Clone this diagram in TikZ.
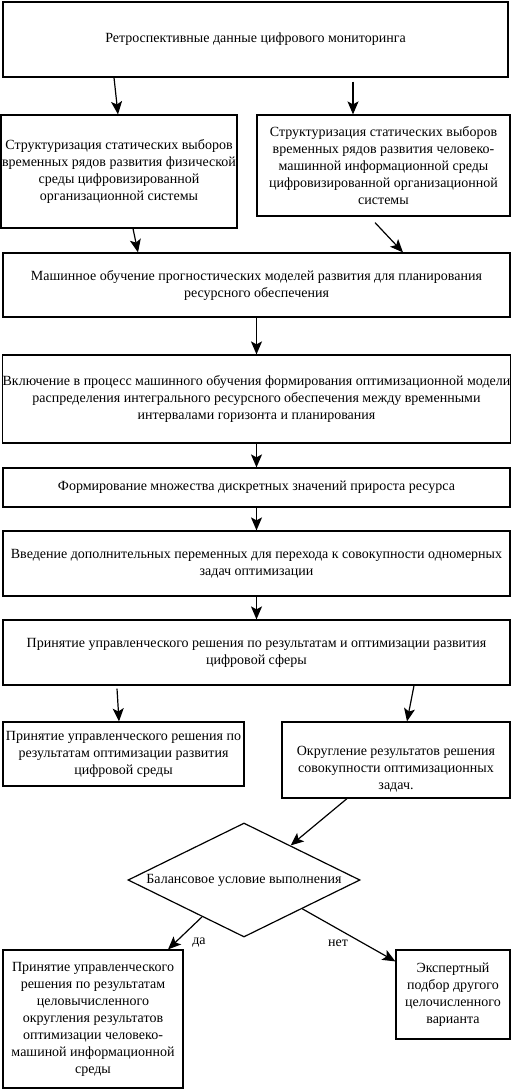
\documentclass[tikz,border=0pt]{standalone}
\usepackage{fontspec}
\setmainfont{Liberation Serif}
\usetikzlibrary{shapes.geometric,arrows.meta,calc}
\begin{document}
\begin{tikzpicture}[x=1pt,y=-1pt,
  box/.style={draw,line width=1.2pt,align=center,inner sep=0pt,font=\fontsize{14}{17}\selectfont},
  arr/.style={line width=1.2pt,-{Stealth[length=13pt,width=11pt,inset=3pt]}},
  lbl/.style={font=\fontsize{14}{17}\selectfont}]
\fill[white] (0,0) rectangle (511,1090);
\useasboundingbox (0,0) rectangle (511,1090);

\node[box,minimum width=505pt,minimum height=75pt] (b1) at (255.5,39.5)
  {Ретроспективные данные цифрового мониторинга};
\node[box,minimum width=236pt,minimum height=113pt] (b2) at (119,171.5)
  {Структуризация статических выборов\\временных рядов развития физической\\среды цифровизированной\\организационной системы};
\node[box,minimum width=253pt,minimum height=101pt] (b3) at (383.5,165.5)
  {Структуризация статических выборов\\временных рядов развития человеко-\\машинной информационной среды\\цифровизированной организационной\\системы};
\node[box,minimum width=507pt,minimum height=64pt] (b4) at (256.5,285)
  {Машинное обучение прогностических моделей развития для планирования\\ресурсного обеспечения};
\node[box,minimum width=507pt,minimum height=88pt] (b5) at (256.5,399)
  {Включение в процесс машинного обучения формирования оптимизационной модели\\распределения интегрального ресурсного обеспечения между временными\\интервалами горизонта и планирования};
\node[box,minimum width=507pt,minimum height=39pt] (b6) at (256.5,487.5)
  {Формирование множества дискретных значений прироста ресурса};
\node[box,minimum width=507pt,minimum height=65pt] (b7) at (256.5,563.5)
  {Введение дополнительных переменных для перехода к совокупности одномерных\\задач оптимизации};
\node[box,minimum width=507pt,minimum height=65pt] (b8) at (256.5,652.5)
  {Принятие управленческого решения по результатам и оптимизации развития\\цифровой сферы};
\node[box,minimum width=241pt,minimum height=64pt] (b9) at (123.5,754)
  {Принятие управленческого решения по\\результатам оптимизации развития\\цифровой среды};
\node[box,minimum width=228pt,minimum height=76pt] (b10) at (396,760)
  {\rule{0pt}{28pt}Округление результатов решения\\совокупности оптимизационных\\задач.};
\node[box,shape=diamond,aspect=2,minimum width=232pt,minimum height=114pt] (d) at (244,880)
  {Балансовое условие выполнения};
\node[box,minimum width=180pt,minimum height=138pt] (b11) at (93,1019)
  {Принятие управленческого\\решения по результатам\\целовычисленного\\округления результатов\\оптимизации человеко-\\машиной информационной\\среды};
\node[box,minimum width=114pt,minimum height=89pt] (b12) at (453,994.5)
  {Экспертный\\подбор другого\\целочисленного\\варианта};

\node[lbl] (lda) at (199,943) {да};
\node[lbl] (lnet) at (338,943) {нет};

\draw[arr] ([xshift=-141.5pt]b1.south) -- ([xshift=-1pt]b2.north);
\draw[arr] ([xshift=97.5pt,yshift=-4pt]b1.south) -- ([xshift=-30.5pt]b3.north);
\draw[arr] ([xshift=14pt]b2.south) -- ([xshift=-118.5pt]b4.north);
\draw[arr] ([xshift=-8.5pt,yshift=-6pt]b3.south) -- ([xshift=146.5pt]b4.north);
\draw[arr] (b4.south) -- (b5.north);
\draw[arr] (b5.south) -- (b6.north);
\draw[arr] (b6.south) -- (b7.north);
\draw[arr] (b7.south) -- (b8.north);
\draw[arr] ([xshift=-139.5pt,yshift=-3pt]b8.south) -- ([xshift=-4.5pt]b9.north);
\draw[arr] ([xshift=157.5pt]b8.south) -- ([xshift=11pt]b10.north);
\draw[arr] ([xshift=-49pt]b10.south) -- ($(d.north)!0.4!(d.east)$);
\draw[arr] ($(d.west)!0.64!(d.south)$) -- ([xshift=75pt]b11.north);
\draw[arr] ($(d.south)!0.5!(d.east)$) -- ([yshift=-12pt]b12.north west);
\end{tikzpicture}
\end{document}
